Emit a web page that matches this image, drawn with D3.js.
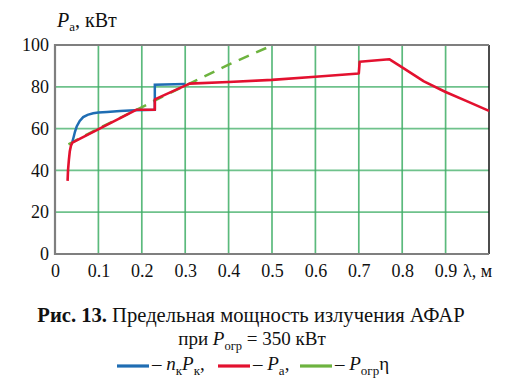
<!DOCTYPE html>
<html lang="ru">
<head>
<meta charset="UTF-8">
<title>Рис. 13</title>
<script src="https://cdn.jsdelivr.net/npm/d3@7"></script>
<style>
  body { margin: 0; background: #fff; }
  text { font-family: "Liberation Serif", "Times New Roman", serif; fill: #111; }
</style>
</head>
<body>
<div id="chart"></div>
<script>
// data
var xTicks = [0, 0.1, 0.2, 0.3, 0.4, 0.5, 0.6, 0.7, 0.8, 0.9];
var xTickLabels = ["0", "0.1", "0.2", "0.3", "0.4", "0.5", "0.6", "0.7", "0.8", "0.9"];
var yTicks = [0, 20, 40, 60, 80, 100];

// n_k P_k (blue)
var blueX = [0.04, 0.043, 0.046, 0.05, 0.057, 0.065, 0.075, 0.088, 0.1, 0.12, 0.15, 0.184, 0.23, 0.23, 0.30];
var blueY = [53.7, 56, 58.5, 61, 63.7, 65.5, 66.6, 67.3, 67.7, 68, 68.4, 68.8, 69, 81, 81.3];

// P_a (red)
var redX = [0.029, 0.030, 0.032, 0.034, 0.037, 0.04, 0.187, 0.23, 0.23, 0.31, 0.4, 0.5, 0.6, 0.7, 0.702, 0.77, 0.8, 0.85, 0.9, 0.95, 1.0];
var redY = [35, 40, 45, 49, 52, 53.3, 69, 69, 74, 81.5, 82.3, 83.3, 84.8, 86.4, 92, 93.2, 89.3, 82.6, 77.5, 73, 68.5];

// P_ogr * eta (green, dashed)
var greenX = [0.031, 0.1, 0.19, 0.25, 0.31, 0.4, 0.5];
var greenY = [52.5, 60, 69.2, 75.5, 81.5, 90.6, 99.8];

var W = 511, H = 390;
var margin = {top: 45, right: 22, bottom: 136, left: 55};

var svg = d3.select("#chart").append("svg")
    .attr("width", W)
    .attr("height", H)
    .attr("font-family", "Liberation Serif");

var x = d3.scaleLinear().domain([0, 1]).range([margin.left, W - margin.right]);
var y = d3.scaleLinear().domain([0, 100]).range([H - margin.bottom, margin.top]);

// grid
svg.append("g").selectAll("line")
    .data(xTicks.slice(1))
    .enter().append("line")
    .attr("x1", function(d) { return x(d); })
    .attr("x2", function(d) { return x(d); })
    .attr("y1", y(0)).attr("y2", y(100))
    .attr("stroke", "#3fae66").attr("stroke-width", 1.7).attr("opacity", 0.85);

svg.append("g").selectAll("line")
    .data(yTicks.slice(1, -1))
    .enter().append("line")
    .attr("x1", x(0)).attr("x2", x(1))
    .attr("y1", function(d) { return y(d); })
    .attr("y2", function(d) { return y(d); })
    .attr("stroke", "#3fae66").attr("stroke-width", 1.7).attr("opacity", 0.75);

// frame
svg.append("line").attr("x1", x(1)).attr("x2", x(1)).attr("y1", y(100)).attr("y2", y(0))
    .attr("stroke", "#111").attr("stroke-width", 1.5);
svg.append("path")
    .attr("d", "M" + x(1) + "," + y(100) + "H" + x(0) + "V" + y(0) + "H" + x(1))
    .attr("fill", "none").attr("stroke", "#7f7f7f").attr("stroke-width", 2.2);

// axes (labels only)
var yAxis = svg.append("g")
    .attr("transform", "translate(" + (x(0) - 1) + ",0)")
    .call(d3.axisLeft(y).tickValues(yTicks).tickSize(0).tickPadding(5));
yAxis.select(".domain").remove();
yAxis.selectAll("text").style("font-size", "18px").attr("fill", "#111");

var xAxis = svg.append("g")
    .attr("transform", "translate(0," + y(0) + ")")
    .call(d3.axisBottom(x).tickValues(xTicks).tickSize(0).tickPadding(10)
        .tickFormat(function(d, i) { return xTickLabels[i]; }));
xAxis.select(".domain").remove();
xAxis.selectAll("text").style("font-size", "18px").attr("fill", "#111");

svg.append("text").attr("x", 463).attr("y", 277).style("font-size", "18px").text("λ, м");

// y title
var yt = svg.append("text").attr("x", 57).attr("y", 27).style("font-size", "20px");
yt.append("tspan").style("font-style", "italic").text("P");
yt.append("tspan").attr("dy", 4).style("font-size", "13px").text("а");
yt.append("tspan").attr("dy", -4).text(", кВт");

// curves
var line = d3.line()
    .x(function(d) { return x(d[0]); })
    .y(function(d) { return y(d[1]); });

svg.append("path")
    .datum(d3.zip(greenX, greenY))
    .attr("d", line)
    .attr("fill", "none").attr("stroke", "#6db33f").attr("stroke-width", 2.5)
    .attr("stroke-dasharray", "11,8");

svg.append("path")
    .datum(d3.zip(blueX, blueY))
    .attr("d", line)
    .attr("fill", "none").attr("stroke", "#1f6db3").attr("stroke-width", 2.5);

svg.append("path")
    .datum(d3.zip(redX, redY))
    .attr("d", line)
    .attr("fill", "none").attr("stroke", "#e3112f").attr("stroke-width", 2.6)
    .attr("stroke-linejoin", "round");

// caption
var c1 = svg.append("text").attr("x", 251).attr("y", 322).attr("text-anchor", "middle").style("font-size", "20.6px");
c1.append("tspan").style("font-weight", "bold").text("Рис. 13.");
c1.append("tspan").text(" Предельная мощность излучения АФАР");

var c2 = svg.append("text").attr("x", 252).attr("y", 345).attr("text-anchor", "middle").style("font-size", "19px");
c2.append("tspan").text("при ");
c2.append("tspan").style("font-style", "italic").text("P");
c2.append("tspan").attr("dy", 5).style("font-size", "12.5px").text("огр");
c2.append("tspan").attr("dy", -5).text(" = 350 кВт");

// legend row
var legend = [
  {color: "#1f6db3", x0: 117, tx: 152},
  {color: "#e3112f", x0: 218, tx: 253},
  {color: "#6db33f", x0: 300, tx: 335}
];
svg.selectAll(".lg").data(legend).enter().append("line")
    .attr("x1", function(d) { return d.x0; })
    .attr("x2", function(d) { return d.x0 + 32; })
    .attr("y1", 366).attr("y2", 366)
    .attr("stroke", function(d) { return d.color; }).attr("stroke-width", 3.2);

var l1 = svg.append("text").attr("x", legend[0].tx).attr("y", 370).style("font-size", "19px");
l1.append("tspan").text("– ");
l1.append("tspan").style("font-style", "italic").text("n");
l1.append("tspan").attr("dy", 5).style("font-size", "13px").text("к");
l1.append("tspan").attr("dy", -5).style("font-style", "italic").text("P");
l1.append("tspan").attr("dy", 5).style("font-size", "13px").text("к");
l1.append("tspan").attr("dy", -5).text(",");

var l2 = svg.append("text").attr("x", legend[1].tx).attr("y", 370).style("font-size", "19px");
l2.append("tspan").text("– ");
l2.append("tspan").style("font-style", "italic").text("P");
l2.append("tspan").attr("dy", 5).style("font-size", "13px").text("а");
l2.append("tspan").attr("dy", -5).text(",");

var l3 = svg.append("text").attr("x", legend[2].tx).attr("y", 370).style("font-size", "19px");
l3.append("tspan").text("– ");
l3.append("tspan").style("font-style", "italic").text("P");
l3.append("tspan").attr("dy", 5).style("font-size", "13px").text("огр");
l3.append("tspan").attr("dy", -5).text("η");
</script>
</body>
</html>
